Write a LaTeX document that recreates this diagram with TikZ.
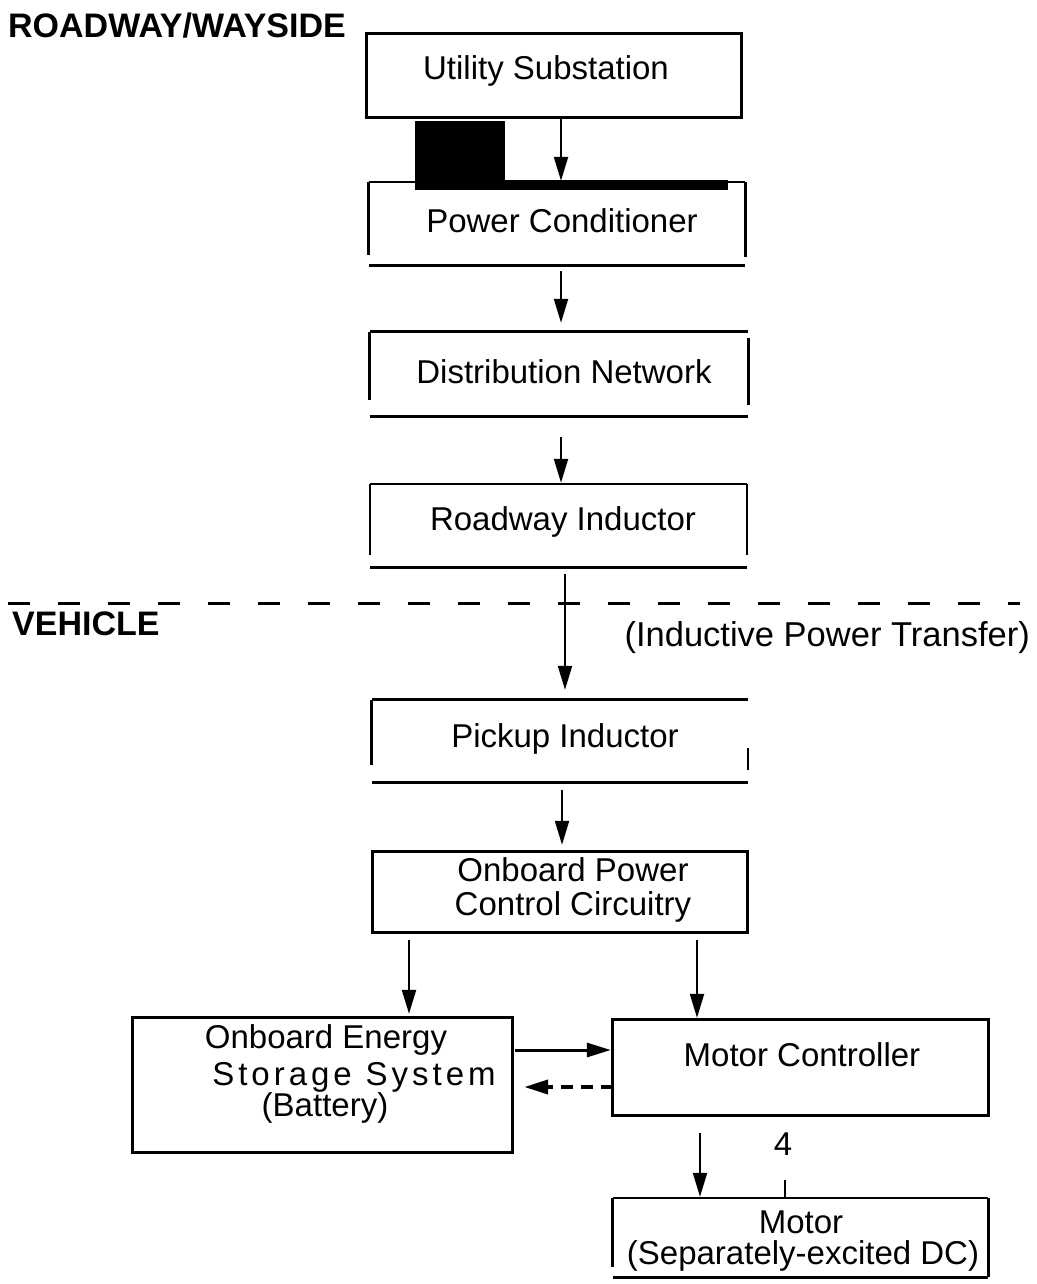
\documentclass[tikz,border=0pt]{standalone}
\usepackage{fontspec}
\setmainfont{Liberation Sans}
\usetikzlibrary{arrows.meta}
\begin{document}
\begin{tikzpicture}[x=1pt,y=-1pt,
  txt/.style={font=\fontsize{33}{34}\selectfont, inner sep=0pt, align=center},
  hdr/.style={font=\fontsize{34}{36}\selectfont\bfseries, inner sep=0pt},
  boxshape/.style={draw=none, inner sep=0pt},
  edgeline/.style={line width=3pt},
  thinedge/.style={line width=1.6pt},
  arr/.style={line width=2.2pt, -{Triangle[length=24pt,width=14pt]}},
  divider/.style={line width=3pt, dash pattern=on 22pt off 28pt}]
\useasboundingbox (0,0) rectangle (1036,1284);

% headers
\node[hdr, anchor=west] (road) at (8,26) {ROADWAY/WAYSIDE};
\node[hdr, anchor=west] (veh) at (12,624) {VEHICLE};
\node[txt, font=\fontsize{34.5}{36}\selectfont, anchor=east] (ipt) at (1030,638) {(Inductive Power Transfer)};
\coordinate (dl) at (8,603);
\coordinate (dr) at (1020,603);
\draw[divider] (dl) -- (dr);

% box frames (named, invisible)
\node[boxshape, minimum width=374pt, minimum height=83pt] (us)  at (554,75.5) {};
\node[boxshape, minimum width=376pt, minimum height=83pt] (pc)  at (557,223.5) {};
\node[boxshape, minimum width=378pt, minimum height=84pt] (dn)  at (559,374) {};
\node[boxshape, minimum width=377pt, minimum height=83pt] (ri)  at (558.5,525.5) {};
\node[boxshape, minimum width=376pt, minimum height=82pt] (pi)  at (560,741) {};
\node[boxshape, minimum width=374pt, minimum height=80pt] (opc) at (560,892) {};
\node[boxshape, minimum width=379pt, minimum height=134pt] (bat) at (322.5,1085) {};
\node[boxshape, minimum width=375pt, minimum height=95pt] (mc)  at (800.5,1067.5) {};
\node[boxshape, minimum width=375pt, minimum height=79pt] (mot) at (800.5,1237.5) {};

% Utility Substation
\draw[edgeline] (us.north west) rectangle (us.south east);
\node[txt] (ust) at (546,71) {Utility Substation};

% Power Conditioner
\draw[thinedge] (pc.north west) -- (pc.north east);
\fill (415,121) rectangle (505,190);
\fill (505,180) rectangle (728,190);
\draw[edgeline] (pc.north west) -- ([yshift=10pt]pc.south west);
\draw[edgeline] (pc.north east) -- ([yshift=8pt]pc.south east);
\draw[edgeline] (pc.south west) -- (pc.south east);
\node[txt] (pct) at (562,221) {Power Conditioner};

% Distribution Network
\draw[edgeline] (dn.north west) -- (dn.north east);
\draw[edgeline] (dn.north west) -- ([yshift=16pt]dn.south west);
\draw[edgeline] ([yshift=-6pt]dn.north east) -- ([yshift=11pt]dn.south east);
\draw[edgeline] (dn.south west) -- (dn.south east);
\node[txt] (dnt) at (564,372) {Distribution Network};

% Roadway Inductor
\draw[thinedge] (ri.north west) -- (ri.north east);
\draw[thinedge] (ri.north west) -- ([yshift=12pt]ri.south west);
\draw[thinedge] (ri.north east) -- ([yshift=12pt]ri.south east);
\draw[edgeline] (ri.south west) -- (ri.south east);
\node[txt] (rit) at (563,522) {Roadway Inductor};

% Pickup Inductor
\draw[edgeline] (pi.north west) -- (pi.north east);
\draw[edgeline] (pi.north west) -- ([yshift=17pt]pi.south west);
\draw[thinedge] ([yshift=-48pt]pi.north east) -- ([yshift=12pt]pi.south east);
\draw[edgeline] (pi.south west) -- (pi.south east);
\node[txt] (pit) at (565,739) {Pickup Inductor};

% Onboard Power Control Circuitry
\draw[edgeline] (opc.north west) rectangle (opc.south east);
\node[txt] (opct) at (573,890) {Onboard Power\\Control Circuitry};

% Battery
\draw[edgeline] (bat.north west) rectangle (bat.south east);
\node[txt] (bat1) at (326,1040) {Onboard Energy};
\node[txt] (bat2) at (354,1077) {\addfontfeatures{LetterSpace=12}Storage\hspace{14pt}System};
\node[txt] (bat3) at (325,1108) {(Battery)};

% Motor Controller
\draw[edgeline] (mc.north west) rectangle (mc.south east);
\node[txt] (mct) at (802,1055) {Motor Controller};

% Motor
\draw[thinedge] (mot.north west) -- (mot.north east);
\draw[edgeline] (mot.north west) -- ([yshift=10pt]mot.south west);
\draw[edgeline] (mot.north east) -- (mot.south east);
\draw[edgeline] (mot.south west) -- (mot.south east);
\node[txt] (mot1) at (801,1222) {Motor};
\node[txt] (mot2) at (803,1256) {(Separately-excited DC)};

% connectors
\draw[arr, shorten >=1pt] ([xshift=7pt]us.south) -- ([xshift=7pt]us.south |- pc.north);
\draw[arr, shorten <=6pt, shorten >=9pt] ([xshift=4pt]pc.south) -- ([xshift=4pt]pc.south |- dn.north);
\draw[arr, shorten <=21pt, shorten >=1pt] ([xshift=2pt]dn.south) -- ([xshift=2pt]dn.south |- ri.north);
\draw[arr, shorten <=7pt, shorten >=10pt] ([xshift=6.5pt]ri.south) -- ([xshift=6.5pt]ri.south |- pi.north);
\draw[arr, shorten <=8pt, shorten >=7pt] ([xshift=2pt]pi.south) -- ([xshift=2pt]pi.south |- opc.north);
\draw[arr, shorten <=8pt, shorten >=4pt] ([xshift=-151pt]opc.south) -- ([xshift=-151pt]opc.south |- bat.north);
\draw[arr, shorten <=8pt, shorten >=2pt] ([xshift=137pt]opc.south) -- ([xshift=137pt]opc.south |- mc.north);
\draw[arr, line width=3pt, shorten <=3pt, shorten >=2pt] ([yshift=35pt]bat.east) -- ([yshift=35pt]bat.east -| mc.west);
\draw[arr, line width=4pt, dash pattern=on 12pt off 8pt, shorten >=12pt] ([yshift=-19.5pt]mc.west) -- ([yshift=-19.5pt]mc.west -| bat.east);
\draw[arr, shorten <=18pt, shorten >=1pt] ([xshift=-100.5pt]mc.south) -- ([xshift=-100.5pt]mc.south |- mot.north);
\draw[line width=2pt] ([xshift=-15.5pt]mot.north) -- ++(0,-18);
\node[txt] (four) at (783,1144) {4};
\end{tikzpicture}
\end{document}
